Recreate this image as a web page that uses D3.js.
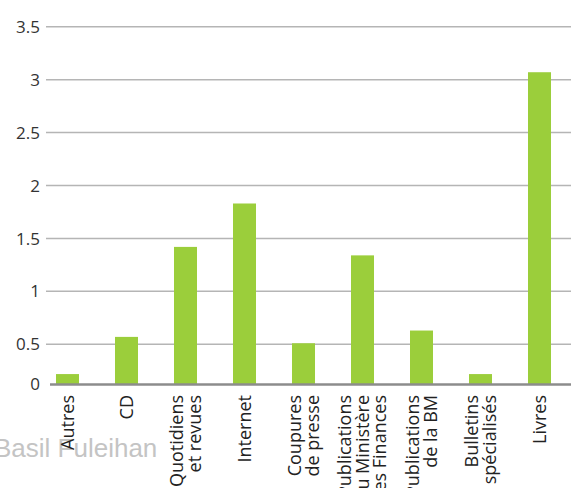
<!DOCTYPE html>
<html><head><meta charset="utf-8">
<script src="https://cdn.jsdelivr.net/npm/d3@7/dist/d3.min.js"></script>
<style>html,body{margin:0;padding:0;background:#fff;overflow:hidden}</style>
</head><body>
<svg id="chart" width="571" height="488"></svg>
<script>
const categories = ["Autres","CD","Quotidiens\net revues","Internet","Coupures\nde presse","Publications\ndu Ministère\ndes Finances","Publications\nde la BM","Bulletins\nspécialisés","Livres"];
const values = [0.125,0.57,1.42,1.83,0.51,1.34,0.63,0.125,3.07];
const tickValues = [0,0.5,1,1.5,2,2.5,3,3.5];
const tickLabels = ["0","0.5","1","1.5","2","2.5","3","3.5"];
const watermark = "Basil Fuleihan";

const svg = d3.select("#chart");
const x = d3.scaleBand().domain(categories).range([38,569]).paddingInner(0.61).paddingOuter(0.305);
const y = d3.scaleLinear().domain([0,0.5,3.5]).range([384,344.3,26.7]);

// gridlines
svg.append("g").selectAll("line").data(tickValues.filter(d=>d>0)).join("line")
  .attr("x1",46).attr("x2",571)
  .attr("y1",d=>y(d)).attr("y2",d=>y(d))
  .attr("stroke","#b5b5b5").attr("stroke-width",1.5);

// y tick labels
svg.append("g").selectAll("text").data(tickValues).join("text")
  .attr("x",40).attr("y",d=>y(d)).attr("dy","0.36em")
  .attr("text-anchor","end")
  .style("font-family","'Open Sans',sans-serif").style("font-size","17px").attr("fill","#333")
  .text((d,i)=>tickLabels[i]);

// watermark
svg.append("text").attr("x",-6).attr("y",457)
  .style("font-family","'Liberation Sans',Arial,sans-serif").style("font-size","26px")
  .attr("fill","#c4c4c4").text(watermark);

// bars
svg.append("g").selectAll("rect").data(values).join("rect")
  .attr("x",(d,i)=>x(categories[i])).attr("width",x.bandwidth())
  .attr("y",d=>y(d)).attr("height",d=>y(0)-y(d))
  .attr("fill","#9bce3b");

// axis line
svg.append("line").attr("x1",50).attr("x2",571).attr("y1",y(0)+0.5).attr("y2",y(0)+0.5)
  .attr("stroke","#8c8c8c").attr("stroke-width",2.5);

// x labels
const lh = 17.5;
const lab = svg.append("g").selectAll("text").data(categories).join("text")
  .attr("transform",d=>`translate(${x(d)+x.bandwidth()/2},395) rotate(-90)`)
  .attr("text-anchor","end")
  .style("font-family","'Open Sans',sans-serif").style("font-size","18px").attr("fill","#222");
lab.each(function(d){
  const lines = d.split("\n");
  const n = lines.length;
  d3.select(this).selectAll("tspan").data(lines).join("tspan")
    .attr("x",0).attr("y",(l,i)=>(i-(n-1)/2)*lh).attr("dy","0.36em").text(l=>l);
});
</script>
</body></html>
